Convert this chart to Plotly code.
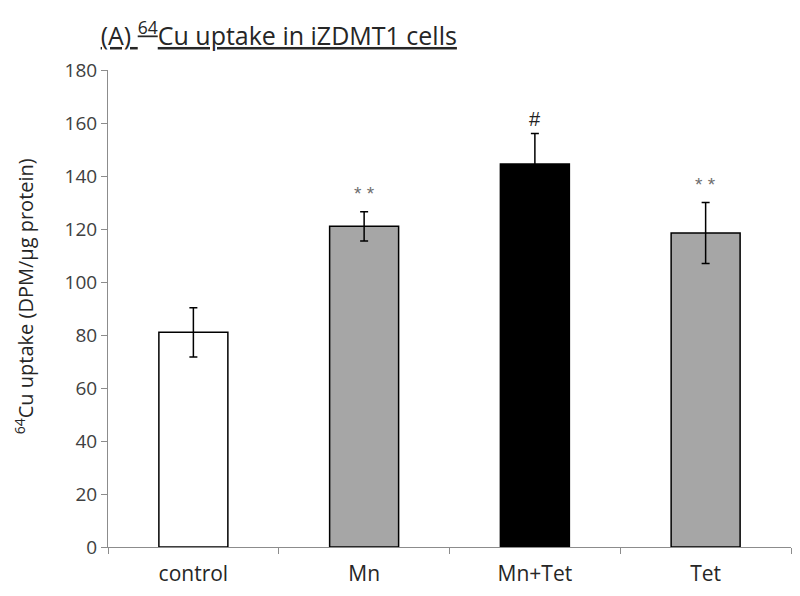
import plotly.graph_objects as go

groups = ["control", "Mn", "Mn+Tet", "Tet"]
uptake = [81, 121, 144.5, 118.5]
sem = [9.3, 5.5, 11.5, 11.5]
fills = ["#ffffff", "#a6a6a6", "#000000", "#a6a6a6"]
marks = ["", "* *", "#", "* *"]

fig = go.Figure()
fig.add_trace(go.Bar(
    x=groups, y=uptake,
    marker=dict(color=fills, line=dict(color="#000000", width=1.5)),
    error_y=dict(type="data", array=sem, visible=True,
                 color="#000000", thickness=1.5, width=4),
    showlegend=False,
))

# significance marks above the error bars
for g, v, e, m in zip(groups, uptake, sem, marks):
    if m:
        fig.add_annotation(
            x=g, y=v + e, text=m, showarrow=False,
            yanchor="bottom", yshift=2 if m == "#" else 6,
            font=dict(size=20 if m == "#" else 19,
                      color="#222222" if m == "#" else "#6e6e6e",
                      family="Liberation Sans"),
        )

# y title as an annotation so it can sit a little above centre, like the original
fig.add_annotation(
    xref="paper", yref="paper", x=-0.122, y=0.525,
    text="<sup>64</sup>Cu uptake (DPM/μg protein)", textangle=-90,
    showarrow=False, xanchor="center", yanchor="middle",
    font=dict(family="Open Sans", size=20, color="#262626"),
)

# page body has an 8px margin, so the figure is drawn slightly smaller
fig.update_layout(
    width=792, height=588,
    margin=dict(l=100, r=9, t=62, b=49),
    paper_bgcolor="white", plot_bgcolor="white",
    bargap=0.596,
    font=dict(family="Open Sans", size=18, color="#404040"),
    title=dict(
        text="<u>(A) <sup>64</sup>Cu uptake in iZDMT1 cells</u>",
        x=0.117, xanchor="left", y=0.952, yanchor="middle",
        font=dict(family="Open Sans", size=25, color="#262626"),
    ),
)
fig.update_yaxes(
    range=[0, 180], dtick=20, showgrid=False, automargin=False,
    showline=True, linecolor="#8c8c8c", linewidth=1,
    ticks="outside", ticklen=6, tickcolor="#8c8c8c",
    tickfont=dict(size=19, color="#404040"),
    zeroline=False,
)
fig.update_xaxes(
    showgrid=False, automargin=False,
    showline=True, linecolor="#8c8c8c", linewidth=1,
    ticks="outside", tickson="boundaries", ticklen=6, tickcolor="#8c8c8c",
    tickfont=dict(size=21, color="#262626"), ticklabelstandoff=8,
)

fig.write_html("out.html")
